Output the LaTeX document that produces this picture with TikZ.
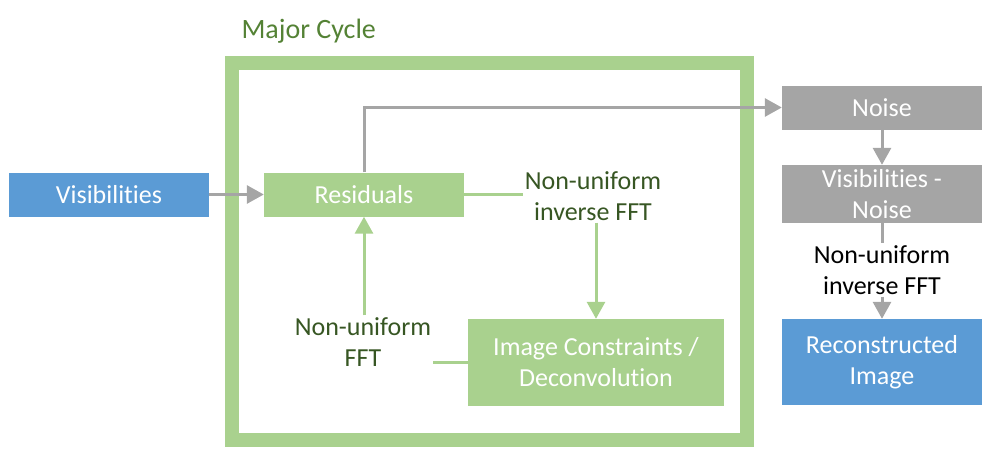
\documentclass[tikz,border=0pt]{standalone}
\usepackage{fontspec}
\setmainfont{Carlito}[Ligatures={NoCommon}]
\usepackage{xcolor}
\usetikzlibrary{calc}
\usetikzlibrary{arrows.meta}
\definecolor{boxblue}{HTML}{5B9BD5}
\definecolor{boxgreen}{HTML}{A9D18E}
\definecolor{boxgray}{HTML}{A5A5A5}
\definecolor{textgreen}{HTML}{375623}
\definecolor{titlegreen}{HTML}{548235}
\tikzset{
  stagebox/.style={rectangle, inner sep=0pt, minimum width=200pt, minimum height=44pt,
    align=center, text=white, font=\fontsize{26}{31}\selectfont},
  steplabel/.style={inner sep=2pt, align=center, font=\fontsize{26}{31}\selectfont},
  flowtip/.style={-{Triangle[length=17pt,width=18pt]}},
}

\begin{document}
\begin{tikzpicture}[x=1pt,y=-1pt]
        \useasboundingbox (0,0) rectangle (993,463);

        % Drawing frame of the major cycle
        \draw [boxgreen, line width=14pt] (232,62.5) rectangle (747,439.5);%
        \draw (238,38) node [anchor=base west, text=titlegreen, font=\fontsize{28}{34}\selectfont] (title) {Major Cycle};%

        % Drawing boxes
        \node [stagebox, fill=boxblue] (vis) at (109,194.5) {Visibilities};%
        \node [stagebox, fill=boxgreen] (res) at (364,194.5) {Residuals};%
        \node [stagebox, fill=boxgreen, minimum width=256pt, minimum height=87pt] (img) at (596,362.5) {Image Constraints /\\Deconvolution};%
        \node [stagebox, fill=boxgray] (noise) at (882,107.5) {Noise};%
        \node [stagebox, fill=boxgray, minimum height=58pt] (diff) at (882,194) {Visibilities -\\Noise};%
        \node [stagebox, fill=boxblue, minimum height=86pt] (recon) at (882,362) {Reconstructed\\Image};%

        % Marking the transform steps
        \node [steplabel, text=textgreen] (ifft) at (593,196) {Non-uniform\\inverse FFT};%
        \node [steplabel, text=textgreen] (fft) at (363,342) {Non-uniform\\FFT};%
        \node [steplabel, text=black] (ifftout) at (882,270) {Non-uniform\\inverse FFT};%

        % Drawing gray connectors
        \draw [boxgray, line width=3pt, flowtip] (vis) -- (res);%
        \draw [boxgray, line width=3pt, flowtip] (res.north) |- (noise.west);%
        \draw [boxgray, line width=3pt, flowtip] (noise) -- (diff);%
        \draw [boxgray, line width=3pt] (diff) -- (ifftout);%
        \draw [boxgray, line width=3pt, flowtip] (ifftout) -- (recon);%

        % Drawing green connectors of the cycle
        \draw [boxgreen, line width=3pt] (res.east) -- (res.east -| ifft.west);%
        \draw [boxgreen, line width=3pt, flowtip] (img.north |- ifft.south) -- (img.north);%
        \draw [boxgreen, line width=3pt] (img.west) -- (img.west -| fft.east);%
        \draw [boxgreen, line width=3pt, flowtip] (fft.north -| res.south) -- (res.south);%
    \end{tikzpicture}
\end{document}
